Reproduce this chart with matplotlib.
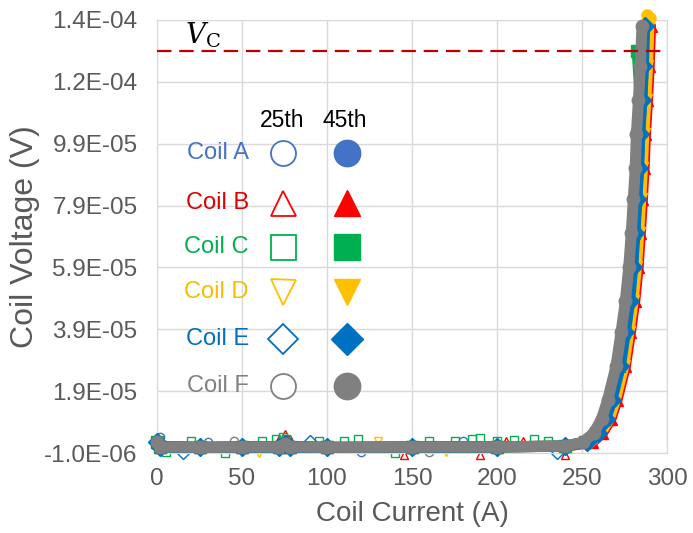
import matplotlib.pyplot as plt
from matplotlib.lines import Line2D

plt.rcParams['font.family'] = ['Liberation Sans', 'DejaVu Sans']
plt.rcParams['mathtext.fontset'] = 'dejavuserif'

coils = ["Coil A", "Coil B", "Coil C", "Coil D", "Coil E", "Coil F"]
colors = ["#4472C4", "#FF0000", "#00B050", "#FFC000", "#0070C0", "#808080"]
text_colors = ["#4472C4", "#E00000", "#00B050", "#F5BE00", "#0070C0", "#808080"]
markers = ["o", "^", "s", "v", "D", "o"]

# 45th run: current (A) and voltage (uV)
flat_i = [0, 2, 25, 50, 72, 75, 78, 100, 150, 200, 240]
flat_v = [2.5, 1.0, 0.8, 0.9, 1.0, 2.0, 1.0, 0.8, 0.9, 1.0, 1.2]

rise_v = [2.5, 5.5, 10, 16, 27, 38, 48, 59, 70, 81, 91, 102, 113, 124, 137]
a_i = [253, 259, 263.5, 267, 272, 275, 277.5, 279.5, 280.8, 282.0, 283.1, 283.8, 285.0, 286.0, 286.5]
b_i = [256, 262, 267, 270.5, 275.5, 278.5, 281, 283, 284.3, 285.5, 286.5, 287.3, 288.5, 289.5, 290.3]
d_i = [255, 261, 266, 269.5, 274.5, 277.5, 280, 282, 283.3, 284.5, 285.5, 286.3, 287.5, 288.5, 289.3]
e_i = [253, 259.5, 264, 267.5, 272.5, 275.5, 278, 279.8, 281.1, 282.3, 283.3, 284.0, 285.2, 286.1, 286.8]
f_i = [250.5, 257, 261.5, 265, 270, 273, 275.5, 277.5, 279, 280.2, 281.3, 282.0, 283.2, 284.3, 285.3]
c_rise_v = [2.5, 5.5, 10, 16, 27, 38, 48, 59, 70, 81, 91, 102, 113, 129]
c_i = [252, 258.5, 263, 266.5, 271.5, 274.5, 277, 279, 280.3, 281.5, 282.5, 283.2, 284.3, 282.5]
# top-most points above the axis
top_i = [288.3, 290.0]
top_v = [140.5, 139.5]

# 25th run: scattered points in the flat part
open_i = {
    "Coil A": [2, 30, 120, 180],
    "Coil B": [72, 75, 78, 145, 190, 205, 215, 240],
    "Coil C": [5, 20, 40, 62, 70, 74, 76, 95, 110, 118, 140, 160, 175, 185, 190, 200, 210, 222, 230],
    "Coil D": [60, 130, 170],
    "Coil E": [15, 90, 235],
    "Coil F": [45, 160],
}
open_v = {
    "Coil A": [4.3, 2.6, -0.8, 2.8],
    "Coil B": [3.5, 5.2, 3.5, -1.6, -1.8, 3.0, 2.9, -1.5],
    "Coil C": [-0.8, 3.0, -0.9, 2.8, 3.6, 4.2, 3.5, 2.9, 2.8, 3.4, -1.0, 2.9, 3.0, 3.5, 4.0, 3.0, 3.2, 3.6, 2.9],
    "Coil D": [-1.0, 2.8, -0.8],
    "Coil E": [-0.9, 2.8, -1.0],
    "Coil F": [2.8, -0.8],
}

v_c = 1.29e-4

fig = plt.figure(figsize=(6.93, 5.33), dpi=100)
ax = fig.add_axes([157 / 693, 80 / 533, 510 / 693, 433 / 533])

curves_i = [a_i, b_i, c_i, d_i, e_i, f_i]
curves_v = [rise_v, rise_v, c_rise_v, rise_v, rise_v, rise_v]
order = [1, 3, 0, 2, 4, 5]  # red/yellow behind, gray on top

for k in order:
    ax.plot(open_i[coils[k]], [x * 1e-6 for x in open_v[coils[k]]], linestyle='none',
            marker=markers[k], ms=6, mfc='none', mec=colors[k], mew=1.0, clip_on=False, zorder=2)

for k in order:
    ii = flat_i + curves_i[k]
    vv = [x * 1e-6 for x in flat_v + curves_v[k]]
    ax.plot(ii, vv, color=colors[k], lw=8, solid_capstyle='round',
            solid_joinstyle='round', clip_on=False, zorder=3)
    ax.plot(ii, vv, linestyle='none', marker=markers[k], ms=9,
            color=colors[k], clip_on=False, zorder=3)

ax.plot(top_i, [x * 1e-6 for x in top_v], linestyle='none', marker='o', ms=8,
        color=colors[3], clip_on=False, zorder=2)

ax.axhline(v_c, color='#C00000', lw=1.6, dashes=(6.5, 3.5), zorder=4)
ax.text(16.5, v_c + 0.3e-6, r'$V_\mathrm{C}$', fontsize=20, color='black',
        ha='left', va='bottom', zorder=5)

yticks = [-1.0e-6 + 2e-5 * k for k in range(8)]
ytick_labels = ["-1.0E-06", "1.9E-05", "3.9E-05", "5.9E-05", "7.9E-05", "9.9E-05", "1.2E-04", "1.4E-04"]
xticks = [0, 50, 100, 150, 200, 250, 300]

ax.set_xlim(0, 300)
ax.set_ylim(yticks[0], yticks[-1])
ax.set_xticks(xticks)
ax.set_yticks(yticks)
ax.set_yticklabels(ytick_labels)
ax.tick_params(length=0, labelsize=17.5, labelcolor='#595959')
ax.tick_params(axis='y', pad=14)
ax.tick_params(axis='x', pad=11)
ax.grid(True, color='#D9D9D9', lw=1)
ax.set_axisbelow(True)
for s in ax.spines.values():
    s.set_color('#D9D9D9')
ax.set_xlabel("Coil Current (A)", fontsize=20, color='#595959', labelpad=8)
ax.set_ylabel("Coil Voltage (V)", fontsize=23, color='#595959', labelpad=3)

# hand-made legend
tr = ax.transAxes
ax.text(0.245, 0.769, "25th", transform=tr, fontsize=16.5, ha='center', va='center', color='black')
ax.text(0.369, 0.769, "45th", transform=tr, fontsize=16.5, ha='center', va='center', color='black')
rows = [0.693, 0.577, 0.476, 0.372, 0.263, 0.155]
for k, yy in enumerate(rows):
    ax.text(0.180, yy, coils[k], transform=tr, fontsize=17, ha='right', va='center', color=text_colors[k])
    ms = 18 if markers[k] != "D" else 15
    ax.add_line(Line2D([0.247], [yy], transform=tr, marker=markers[k], ms=ms,
                       mfc='white', mec=colors[k], mew=1.3, linestyle='none', zorder=6))
    ax.add_line(Line2D([0.373], [yy], transform=tr, marker=markers[k], ms=ms + 1,
                       color=colors[k], linestyle='none', zorder=6))

fig.savefig("out.png", dpi=100)
